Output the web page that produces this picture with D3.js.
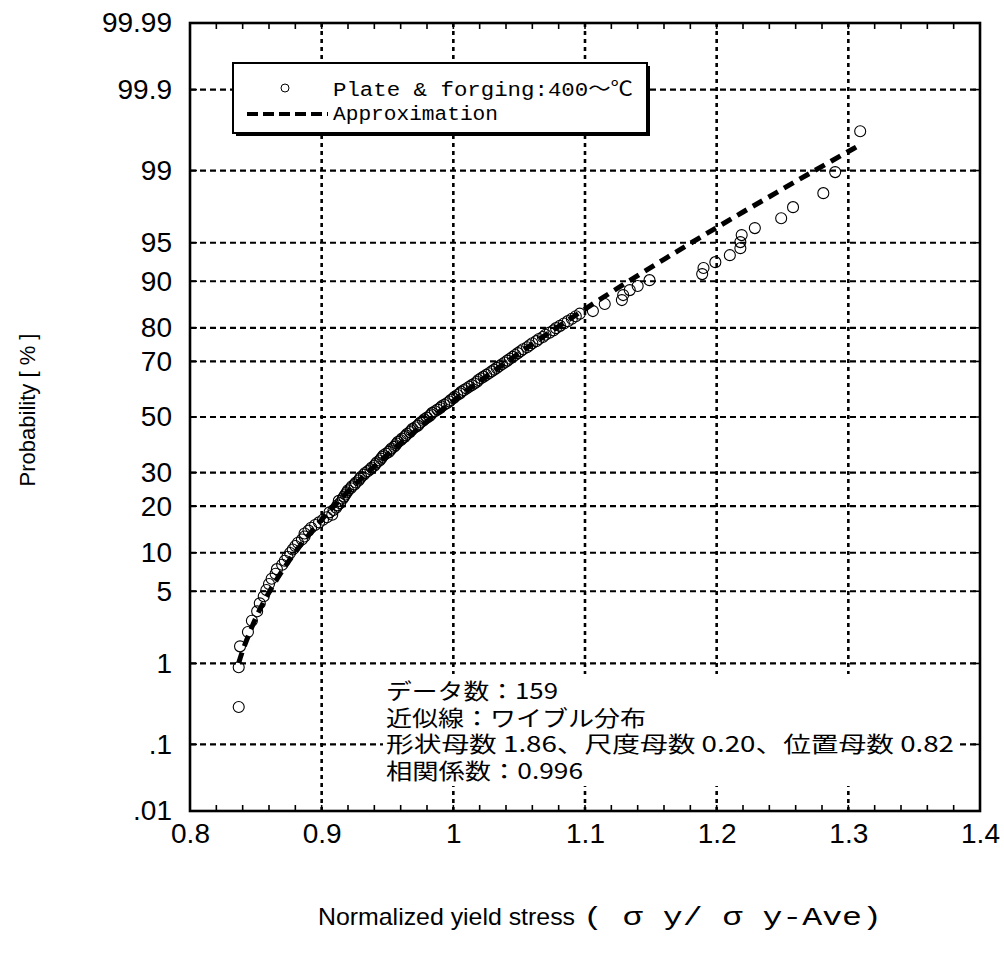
<!DOCTYPE html>
<html>
<head>
<meta charset="utf-8">
<script src="https://cdn.jsdelivr.net/npm/d3@7"></script>
<style>
  body { margin: 0; background: #fff; }
  svg { display: block; }
</style>
</head>
<body>
<svg id="chart" width="1004" height="956"></svg>
<script>
// probability axis (normal probability paper), labels in %
var yTickPct = [0.01, 0.1, 1, 5, 10, 20, 30, 50, 70, 80, 90, 95, 99, 99.9, 99.99];
var yTickLabels = ['.01', '.1', '1', '5', '10', '20', '30', '50', '70', '80', '90', '95', '99', '99.9', '99.99'];
var xTicks = [0.8, 0.9, 1.0, 1.1, 1.2, 1.3, 1.4];
var xTickLabels = ['0.8', '0.9', '1', '1.1', '1.2', '1.3', '1.4'];

var stressRatio = [
  0.837,0.837,0.838,0.844,0.847,0.851,0.853,0.856,0.858,0.860,
  0.862,0.865,0.866,0.870,0.872,0.874,0.876,0.878,0.880,0.882,
  0.885,0.887,0.887,0.890,0.892,0.895,0.898,0.901,0.904,0.908,
  0.906,0.909,0.911,0.912,0.914,0.913,0.916,0.917,0.918,0.919,
  0.920,0.922,0.923,0.925,0.926,0.928,0.929,0.930,0.932,0.933,
  0.935,0.937,0.938,0.940,0.941,0.942,0.944,0.945,0.946,0.947,
  0.949,0.951,0.952,0.953,0.955,0.956,0.957,0.958,0.960,0.961,
  0.963,0.964,0.965,0.967,0.968,0.969,0.971,0.973,0.974,0.975,
  0.977,0.978,0.980,0.982,0.983,0.984,0.986,0.988,0.990,0.991,
  0.993,0.995,0.997,0.998,1.000,1.001,1.003,1.005,1.006,1.008,
  1.010,1.012,1.014,1.016,1.018,1.019,1.021,1.023,1.025,1.027,
  1.029,1.031,1.033,1.035,1.037,1.039,1.041,1.043,1.045,1.047,
  1.049,1.051,1.053,1.056,1.058,1.060,1.063,1.065,1.068,1.070,
  1.073,1.076,1.078,1.081,1.084,1.087,1.090,1.093,1.096,
  1.106,1.115,1.128,1.129,1.134,1.140,1.149,1.189,1.190,1.199,
  1.210,1.218,1.218,1.219,1.229,1.249,1.258,1.281,1.290,1.309
];
var cumPct = [
  0.31,0.91,1.52,2.12,2.72,3.33,3.93,4.53,5.13,5.74,
  6.34,6.94,7.55,8.15,8.75,9.36,9.96,10.56,11.16,11.77,
  12.37,12.97,13.58,14.18,14.78,15.39,15.99,16.59,17.19,17.80,
  18.40,19.00,19.61,20.21,20.81,21.42,22.02,22.62,23.23,23.83,
  24.43,25.04,25.64,26.24,26.84,27.45,28.05,28.65,29.26,29.86,
  30.46,31.07,31.67,32.27,32.88,33.48,34.08,34.68,35.29,35.89,
  36.49,37.10,37.70,38.30,38.91,39.51,40.11,40.72,41.32,41.92,
  42.52,43.13,43.73,44.33,44.94,45.54,46.14,46.75,47.35,47.95,
  48.56,49.16,49.76,50.36,50.97,51.57,52.17,52.78,53.38,53.98,
  54.59,55.19,55.79,56.40,57.00,57.60,58.20,58.81,59.41,60.01,
  60.62,61.22,61.82,62.43,63.03,63.63,64.24,64.84,65.44,66.04,
  66.65,67.25,67.85,68.46,69.06,69.66,70.27,70.87,71.47,72.08,
  72.68,73.28,73.88,74.49,75.09,75.69,76.30,76.90,77.50,78.11,
  78.71,79.31,79.92,80.52,81.12,81.72,82.33,82.93,83.53,
  84.13,85.68,86.51,87.51,88.45,89.18,90.18,91.13,92.01,92.81,
  93.67,94.45,95.06,95.70,96.27,96.97,97.62,98.27,98.96,99.65
];

// approximation line (weibull fit)
var fitX = [0.837,0.84,0.85,0.86,0.87,0.88,0.90,0.92,0.94,0.96,0.98,1.00,1.02,1.04,1.06,1.08,1.10,1.12,1.14,1.16,1.18,1.20,1.22,1.24,1.26,1.28,1.30,1.31];
var fitPct = [1.01,1.37,2.89,4.89,7.31,10.11,16.63,24.08,32.07,40.25,48.33,56.05,63.21,69.70,75.43,80.38,84.58,88.07,90.90,93.16,94.94,96.31,97.35,98.12,98.69,99.10,99.39,99.50];

var notes = [
  'データ数：159',
  '近似線：ワイブル分布',
  '形状母数 1.86、尺度母数 0.20、位置母数 0.82',
  '相関係数：0.996'
];
var noteWidths = [172, 260, 568, 197];

// inverse normal cdf (Acklam) for probability paper
function probit(p) {
  var a = [-3.969683028665376e+01, 2.209460984245205e+02, -2.759285104469687e+02, 1.383577518672690e+02, -3.066479806614716e+01, 2.506628277459239e+00];
  var b = [-5.447609879822406e+01, 1.615858368580409e+02, -1.556989798598866e+02, 6.680131188771972e+01, -1.328068155288572e+01];
  var c = [-7.784894002430293e-03, -3.223964580411365e-01, -2.400758277161838e+00, -2.549732539343734e+00, 4.374664141464968e+00, 2.938163982698783e+00];
  var d = [7.784695709041462e-03, 3.224671290700398e-01, 2.445134137142996e+00, 3.754408661907416e+00];
  var plow = 0.02425, q, r;
  if (p < plow) {
    q = Math.sqrt(-2 * Math.log(p));
    return (((((c[0]*q+c[1])*q+c[2])*q+c[3])*q+c[4])*q+c[5]) / ((((d[0]*q+d[1])*q+d[2])*q+d[3])*q+1);
  }
  if (p > 1 - plow) {
    q = Math.sqrt(-2 * Math.log(1 - p));
    return -(((((c[0]*q+c[1])*q+c[2])*q+c[3])*q+c[4])*q+c[5]) / ((((d[0]*q+d[1])*q+d[2])*q+d[3])*q+1);
  }
  q = p - 0.5; r = q * q;
  return (((((a[0]*r+a[1])*r+a[2])*r+a[3])*r+a[4])*r+a[5])*q / (((((b[0]*r+b[1])*r+b[2])*r+b[3])*r+b[4])*r+1);
}

var svg = d3.select('#chart'),
    pLeft = 190, pRight = 980, pTop = 23, pBottom = 811,
    width = pRight - pLeft, height = pBottom - pTop;

var x = d3.scaleLinear().domain([0.8, 1.4]).range([pLeft, pRight]);
var yz = d3.scaleLinear().domain([probit(0.0001), probit(0.9999)]).range([pBottom, pTop]);
function y(pct) { return yz(probit(pct / 100)); }

svg.append('rect').attr('width', 1004).attr('height', 956).attr('fill', '#fff');

// grid
var grid = svg.append('g');
grid.selectAll('.hg')
  .data(yTickPct.slice(1, -1))
  .enter().append('line')
    .attr('x1', pLeft).attr('x2', pRight)
    .attr('y1', function(d) { return y(d); })
    .attr('y2', function(d) { return y(d); })
    .attr('stroke', '#000').attr('stroke-width', 2.2)
    .attr('stroke-dasharray', '6,4');
grid.selectAll('.vg')
  .data(xTicks.slice(1, -1))
  .enter().append('line')
    .attr('y1', pTop).attr('y2', pBottom)
    .attr('x1', function(d) { return x(d); })
    .attr('x2', function(d) { return x(d); })
    .attr('stroke', '#000').attr('stroke-width', 2.6)
    .attr('stroke-dasharray', '4,4');

// minor ticks on x (0.02) top & bottom, ticks on y left & right
var minor = d3.range(0.8, 1.4001, 0.02);
var ticks = svg.append('g').attr('stroke', '#000').attr('stroke-width', 1.6);
ticks.selectAll('.tb').data(minor).enter().append('line')
  .attr('x1', function(d) { return x(d); }).attr('x2', function(d) { return x(d); })
  .attr('y1', pBottom).attr('y2', pBottom - 6);
ticks.selectAll('.tt').data(minor).enter().append('line')
  .attr('x1', function(d) { return x(d); }).attr('x2', function(d) { return x(d); })
  .attr('y1', pTop).attr('y2', pTop + 6);
ticks.selectAll('.tr').data(yTickPct).enter().append('line')
  .attr('x1', pRight).attr('x2', pRight - 7)
  .attr('y1', function(d) { return y(d); }).attr('y2', function(d) { return y(d); });
ticks.selectAll('.tl').data(yTickPct).enter().append('line')
  .attr('x1', pLeft).attr('x2', pLeft + 7)
  .attr('y1', function(d) { return y(d); }).attr('y2', function(d) { return y(d); });

// frame
svg.append('rect')
  .attr('x', pLeft).attr('y', pTop).attr('width', width).attr('height', height)
  .attr('fill', 'none').attr('stroke', '#000').attr('stroke-width', 2.6);

// axes labels through d3 axes
var yAxis = svg.append('g')
  .attr('transform', 'translate(' + pLeft + ',0)')
  .call(d3.axisLeft(yz)
    .tickValues(yTickPct.map(function(p) { return probit(p / 100); }))
    .tickFormat(function(d, i) { return yTickLabels[i]; })
    .tickSize(0).tickPadding(18));
yAxis.select('.domain').remove();
yAxis.selectAll('text')
  .attr('font-family', '"Liberation Sans", Arial, sans-serif')
  .attr('font-size', 28).attr('fill', '#000');

var xAxis = svg.append('g')
  .attr('transform', 'translate(0,' + pBottom + ')')
  .call(d3.axisBottom(x)
    .tickValues(xTicks)
    .tickFormat(function(d, i) { return xTickLabels[i]; })
    .tickSize(0).tickPadding(12));
xAxis.select('.domain').remove();
xAxis.selectAll('text')
  .attr('font-family', '"Liberation Sans", Arial, sans-serif')
  .attr('font-size', 28).attr('fill', '#000');

// data points
var pts = stressRatio.map(function(v, i) { return [v, cumPct[i]]; });
svg.append('g').selectAll('circle')
  .data(pts)
  .enter().append('circle')
    .attr('cx', function(d) { return x(d[0]); })
    .attr('cy', function(d) { return y(d[1]); })
    .attr('r', 5.5)
    .attr('fill', 'none').attr('stroke', '#000').attr('stroke-width', 1.1);

// approximation curve
var line = d3.line()
  .x(function(d) { return x(d[0]); })
  .y(function(d) { return y(d[1]); })
  .curve(d3.curveCatmullRom);
svg.append('path')
  .datum(fitX.map(function(v, i) { return [v, fitPct[i]]; }))
  .attr('d', line)
  .attr('fill', 'none').attr('stroke', '#000')
  .attr('stroke-width', 5).attr('stroke-dasharray', '11,7');

// legend
var lg = svg.append('g');
lg.append('rect').attr('x', 236).attr('y', 66).attr('width', 414).attr('height', 70).attr('fill', '#000');
lg.append('rect').attr('x', 233).attr('y', 63).attr('width', 414).attr('height', 70)
  .attr('fill', '#fff').attr('stroke', '#000').attr('stroke-width', 2);
lg.append('circle').attr('cx', 285).attr('cy', 88).attr('r', 4)
  .attr('fill', 'none').attr('stroke', '#000').attr('stroke-width', 1);
lg.append('line').attr('x1', 247).attr('x2', 328).attr('y1', 114).attr('y2', 114)
  .attr('stroke', '#000').attr('stroke-width', 4).attr('stroke-dasharray', '11,5');
lg.append('text').attr('x', 333).attr('y', 96)
  .attr('font-family', '"Liberation Mono", "Noto Sans CJK JP", monospace').attr('font-size', 20)
  .attr('textLength', 300).attr('lengthAdjust', 'spacingAndGlyphs')
  .text('Plate & forging:400～℃');
lg.append('text').attr('x', 333).attr('y', 120)
  .attr('font-family', '"Liberation Mono", "Noto Sans CJK JP", monospace').attr('font-size', 20)
  .attr('textLength', 165).attr('lengthAdjust', 'spacingAndGlyphs')
  .text('Approximation');

// annotation block
var nb = svg.append('g');
nb.append('rect').attr('x', 383).attr('y', 674).attr('width', 576).attr('height', 112).attr('fill', '#fff');
nb.selectAll('text')
  .data(notes)
  .enter().append('text')
    .attr('x', 386)
    .attr('y', function(d, i) { return 699 + i * 26.5; })
    .attr('font-family', '"Noto Sans CJK JP", sans-serif').attr('font-size', 22)
    .attr('textLength', function(d, i) { return noteWidths[i]; })
    .attr('lengthAdjust', 'spacingAndGlyphs')
    .text(function(d) { return d; });

// axis titles
svg.append('text')
  .attr('transform', 'translate(35,410) rotate(-90)')
  .attr('text-anchor', 'middle')
  .attr('font-family', '"Liberation Sans", Arial, sans-serif').attr('font-size', 22)
  .text('Probability [ % ]');
svg.append('text').attr('x', 318).attr('y', 925)
  .attr('font-family', '"Liberation Sans", Arial, sans-serif').attr('font-size', 24)
  .attr('textLength', 257).attr('lengthAdjust', 'spacingAndGlyphs')
  .text('Normalized yield stress');
svg.append('text').attr('x', 583).attr('y', 925)
  .attr('font-family', '"Liberation Mono", monospace').attr('font-size', 25)
  .attr('textLength', 299).attr('lengthAdjust', 'spacingAndGlyphs')
  .text('( σ y/ σ y-Ave)');
</script>
</body>
</html>
